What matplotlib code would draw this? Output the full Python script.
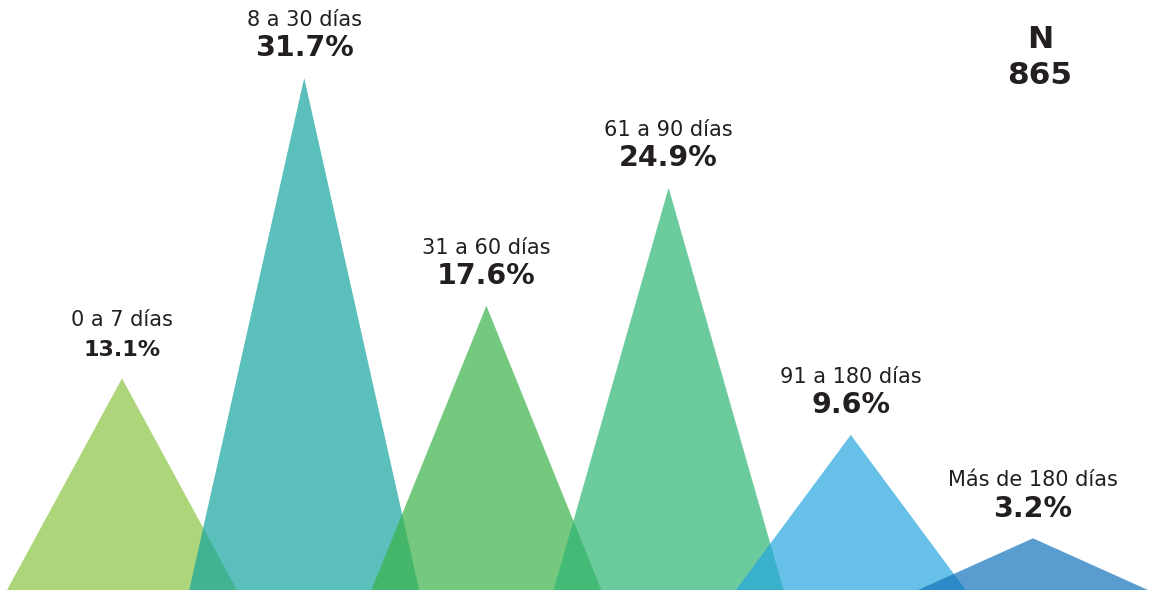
import matplotlib.pyplot as plt
from matplotlib.colors import to_rgb
import numpy as np

# data
categorias = ["0 a 7 días", "8 a 30 días", "31 a 60 días", "61 a 90 días",
              "91 a 180 días", "Más de 180 días"]
porcentajes = [13.1, 31.7, 17.6, 24.9, 9.6, 3.2]
total_n = 865

# colours as they look over white; triangles are drawn with alpha
visibles = ["#AED67A", "#5BC0BB", "#76CA7E", "#6DCB9E", "#67C1E8", "#5A9ED0"]
alpha = 0.7
texto = "#231F20"


def base_color(hex_color):
    c = np.array(to_rgb(hex_color))
    return tuple(np.clip((c - (1 - alpha)) / alpha, 0, 1))


fig = plt.figure(figsize=(11.51, 5.91), dpi=100)
ax = fig.add_axes([0, 0, 1, 1])

half = 0.631
for i, (cat, val, col) in enumerate(zip(categorias, porcentajes, visibles)):
    ax.fill([i - half, i, i + half], [0, val, 0], color=base_color(col),
            alpha=alpha, lw=0)
    size_pct = 16 if i == 0 else 20.5
    off_pct = 16 if i == 0 else 15.5
    ax.annotate(f"{val}%", (i, val), xytext=(0, off_pct), textcoords="offset points",
                ha="center", va="baseline", fontsize=size_pct, fontweight="bold",
                color=texto)
    ax.annotate(cat, (i, val), xytext=(0, 37.5), textcoords="offset points",
                ha="center", va="baseline", fontsize=15, color=texto)

fig.text(1040 / 1151, 1 - 40 / 591, "N", ha="center", va="center",
         fontsize=22.5, fontweight="bold", color=texto)
fig.text(1040 / 1151, 1 - 76 / 591, str(total_n), ha="center", va="center",
         fontsize=22.5, fontweight="bold", color=texto)

ax.set_xlim(-0.6696, 5.6476)
ax.set_ylim(-0.062, 36.53)
ax.axis("off")

fig.savefig("out.png", dpi=100)
